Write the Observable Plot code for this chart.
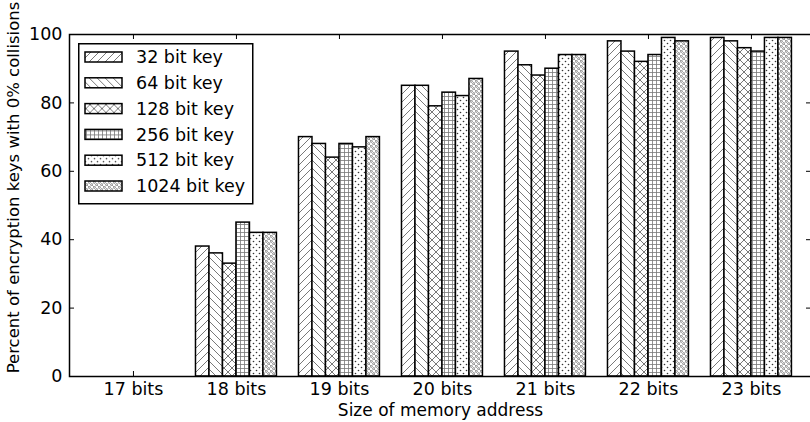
<!DOCTYPE html>
<html><head><meta charset="utf-8">
<script src="https://cdn.jsdelivr.net/npm/d3@7"></script>
<script src="https://cdn.jsdelivr.net/npm/@observablehq/plot@0.6"></script>
<style>
body{margin:0;background:#fff;}
#wrap{position:relative;width:810px;height:422px;overflow:hidden;}
#legend{position:absolute;left:78px;top:43px;}
</style></head><body>
<svg width="0" height="0" style="position:absolute">
<defs>
<pattern id="h0" patternUnits="userSpaceOnUse" width="8" height="8">
<rect width="8" height="8" fill="white"/>
<path d="M0,8 L8,0 M-2,2 L2,-2 M6,10 L10,6" stroke="#6a6a6a" stroke-width="0.9"/>
</pattern>
<pattern id="h1" patternUnits="userSpaceOnUse" width="8" height="8">
<rect width="8" height="8" fill="white"/>
<path d="M0,0 L8,8 M-2,6 L2,10 M6,-2 L10,2" stroke="#6a6a6a" stroke-width="0.9"/>
</pattern>
<pattern id="h2" patternUnits="userSpaceOnUse" width="8" height="8">
<rect width="8" height="8" fill="white"/>
<path d="M0,8 L8,0 M-2,2 L2,-2 M6,10 L10,6 M0,0 L8,8 M-2,6 L2,10 M6,-2 L10,2" stroke="#6a6a6a" stroke-width="0.9"/>
</pattern>
<pattern id="h3" patternUnits="userSpaceOnUse" width="4" height="4">
<rect width="4" height="4" fill="white"/>
<path d="M0.5,0 L0.5,4 M0,0.5 L4,0.5" stroke="#777" stroke-width="0.8"/>
</pattern>
<pattern id="h4" patternUnits="userSpaceOnUse" width="6" height="6">
<rect width="6" height="6" fill="white"/>
<circle cx="1.5" cy="1.5" r="0.8" fill="#333"/>
<circle cx="4.5" cy="4.5" r="0.8" fill="#333"/>
</pattern>
<pattern id="h5" patternUnits="userSpaceOnUse" width="5" height="5">
<rect width="5" height="5" fill="white"/>
<circle cx="1.25" cy="1.25" r="1.1" fill="none" stroke="#555" stroke-width="0.7"/>
<circle cx="3.75" cy="3.75" r="1.1" fill="none" stroke="#555" stroke-width="0.7"/>
</pattern>
</defs>
</svg>
<div id="wrap"><div id="legend"></div></div>
<script>
// Categories
const groups = ["17 bits", "18 bits", "19 bits", "20 bits", "21 bits", "22 bits", "23 bits"];
const keys = ["32 bit key", "64 bit key", "128 bit key", "256 bit key", "512 bit key", "1024 bit key"];
// Series values (percent of keys with 0% collisions)
const key32   = [0, 38, 70, 85, 95, 98, 99];
const key64   = [0, 36, 68, 85, 91, 95, 98];
const key128  = [0, 33, 64, 79, 88, 92, 96];
const key256  = [0, 45, 68, 83, 90, 94, 95];
const key512  = [0, 42, 67, 82, 94, 99, 99];
const key1024 = [0, 42, 70, 87, 94, 98, 99];
// Tick labels
const yTicks = [0, 20, 40, 60, 80, 100];
const xLabel = "Size of memory address";
const yLabel = "Percent of encryption keys with 0% collisions";

const series = [key32, key64, key128, key256, key512, key1024];
const hatch = keys.map((k, i) => `url(#h${i})`);
const rows = [];
series.forEach((vals, ki) => vals.forEach((v, gi) => {
  rows.push({group: groups[gi], gi, key: keys[ki], ki, value: v});
}));

const W = 0.131; // bar width in group units
const ML = 69, MR = -1, MT = 34, MB = 46, WIDTH = 810, HEIGHT = 422;
const plotW = WIDTH - ML - MR, plotH = HEIGHT - MT - MB;
const font = "DejaVu Sans";

const chart = Plot.plot({
  width: WIDTH, height: HEIGHT,
  marginLeft: ML, marginRight: MR, marginTop: MT, marginBottom: MB,
  style: {fontFamily: font, fontSize: "17px", background: "white", color: "black", overflow: "visible"},
  x: {domain: [-0.621, 6.583], axis: null},
  y: {domain: [0, 100], axis: null},
  color: {type: "identity"},
  marks: [
    // inward ticks
    Plot.tickX(groups, {x: (d, i) => i, insetTop: plotH - 5, stroke: "black", strokeWidth: 1}),
    Plot.tickX(groups, {x: (d, i) => i, insetBottom: plotH - 5, stroke: "black", strokeWidth: 1}),
    Plot.tickY(yTicks, {y: d => d, insetRight: plotW - 5, stroke: "black", strokeWidth: 1}),
    Plot.tickY(yTicks, {y: d => d, insetLeft: plotW - 5, stroke: "black", strokeWidth: 1}),
    // bars
    Plot.rect(rows.filter(d => d.value > 0), {
      x1: d => d.gi + (d.ki - 3) * W,
      x2: d => d.gi + (d.ki - 2) * W,
      y1: 0, y2: "value",
      fill: d => hatch[d.ki],
      stroke: "black", strokeWidth: 1.5
    }),
    // tick labels
    Plot.text(yTicks, {y: d => d, text: d => String(d), frameAnchor: "left", textAnchor: "end", dx: -7, fontSize: 17.5}),
    Plot.text(groups, {x: (d, i) => i, text: d => d, frameAnchor: "bottom", lineAnchor: "top", dy: 6, fontSize: 17.5}),
    // axis labels
    Plot.text([xLabel], {text: d => d, frameAnchor: "bottom", lineAnchor: "top", dy: 27, fontSize: 17}),
    Plot.text([yLabel], {text: d => d, frameAnchor: "left", textAnchor: "middle", rotate: -90, dx: -56, dy: -18, fontSize: 16.5}),
    Plot.frame({stroke: "black", strokeWidth: 1.5})
  ]
});
document.getElementById("wrap").prepend(chart);

// Legend (inside plot area, upper left)
const lg = d3.select("#legend").append("svg")
  .attr("width", 176).attr("height", 162)
  .style("font-family", font).style("font-size", "17.5px");
lg.append("rect").attr("x", 0.75).attr("y", 0.75).attr("width", 174).attr("height", 160)
  .attr("fill", "white").attr("stroke", "black").attr("stroke-width", 1.5);
const item = lg.selectAll("g").data(keys).join("g")
  .attr("transform", (d, i) => `translate(0,${14 + i * 25.8})`);
item.append("rect").attr("x", 7).attr("y", -5).attr("width", 37).attr("height", 10)
  .attr("fill", (d, i) => hatch[i]).attr("stroke", "black").attr("stroke-width", 1.5);
item.append("text").attr("x", 58).attr("y", 0).attr("dy", "0.35em").text(d => d);
</script>
</body></html>
